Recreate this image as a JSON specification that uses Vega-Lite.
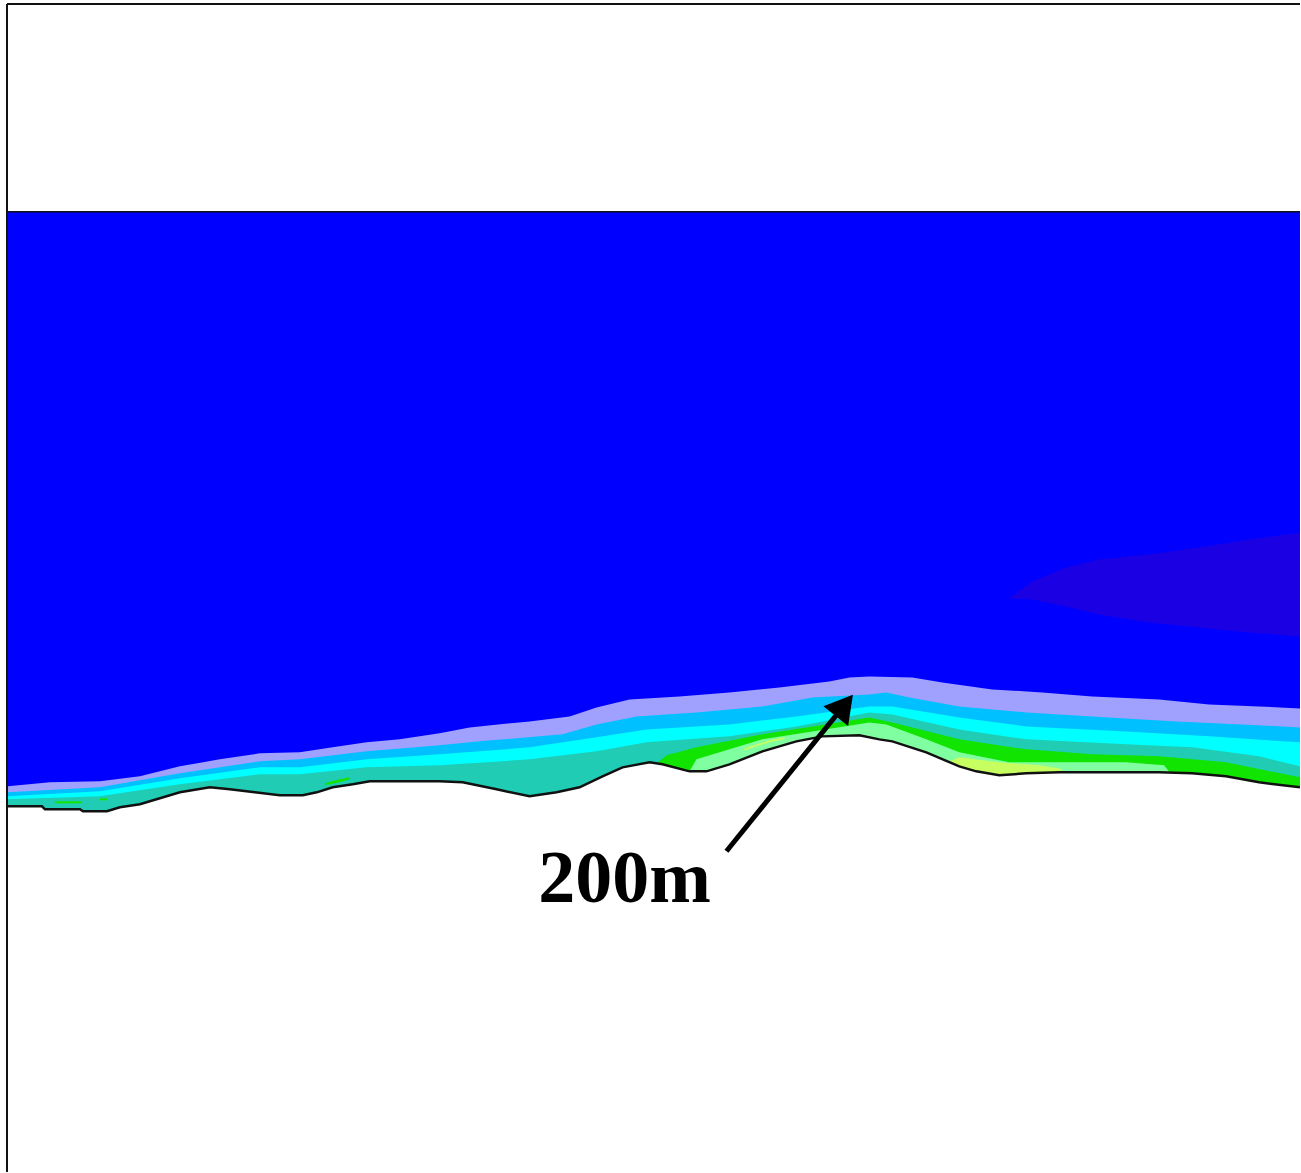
{
  "$schema": "https://vega.github.io/schema/vega-lite/v6.json",
  "autosize": {"type": "fit", "contains": "padding"},
  "width": 1301,
  "height": 1173,
  "padding": 0,
  "background": "white",
  "config": {"view": {"stroke": null}},
  "datasets": {
    "bands": [
      {"band": "blue", "x": 8, "top": 212}, {"band": "blue", "x": 1301, "top": 212},

      {"band": "lavender", "x": 8, "top": 787}, {"band": "lavender", "x": 50, "top": 783}, {"band": "lavender", "x": 100, "top": 782},
      {"band": "lavender", "x": 140, "top": 777}, {"band": "lavender", "x": 180, "top": 767}, {"band": "lavender", "x": 220, "top": 760},
      {"band": "lavender", "x": 260, "top": 754}, {"band": "lavender", "x": 300, "top": 753}, {"band": "lavender", "x": 333, "top": 748},
      {"band": "lavender", "x": 367, "top": 743}, {"band": "lavender", "x": 400, "top": 740}, {"band": "lavender", "x": 440, "top": 734},
      {"band": "lavender", "x": 470, "top": 728}, {"band": "lavender", "x": 530, "top": 722}, {"band": "lavender", "x": 570, "top": 717},
      {"band": "lavender", "x": 597, "top": 708}, {"band": "lavender", "x": 630, "top": 700}, {"band": "lavender", "x": 680, "top": 697},
      {"band": "lavender", "x": 730, "top": 693}, {"band": "lavender", "x": 780, "top": 688}, {"band": "lavender", "x": 830, "top": 682},
      {"band": "lavender", "x": 850, "top": 678}, {"band": "lavender", "x": 870, "top": 677}, {"band": "lavender", "x": 913, "top": 678},
      {"band": "lavender", "x": 943, "top": 683}, {"band": "lavender", "x": 993, "top": 690}, {"band": "lavender", "x": 1043, "top": 693},
      {"band": "lavender", "x": 1093, "top": 697}, {"band": "lavender", "x": 1160, "top": 700}, {"band": "lavender", "x": 1210, "top": 705},
      {"band": "lavender", "x": 1260, "top": 707}, {"band": "lavender", "x": 1301, "top": 709},

      {"band": "sky", "x": 8, "top": 793}, {"band": "sky", "x": 100, "top": 788}, {"band": "sky", "x": 180, "top": 774},
      {"band": "sky", "x": 260, "top": 762}, {"band": "sky", "x": 300, "top": 760}, {"band": "sky", "x": 367, "top": 752},
      {"band": "sky", "x": 440, "top": 746}, {"band": "sky", "x": 480, "top": 742}, {"band": "sky", "x": 563, "top": 735},
      {"band": "sky", "x": 597, "top": 725}, {"band": "sky", "x": 637, "top": 717}, {"band": "sky", "x": 697, "top": 713},
      {"band": "sky", "x": 763, "top": 707}, {"band": "sky", "x": 813, "top": 698}, {"band": "sky", "x": 870, "top": 695},
      {"band": "sky", "x": 887, "top": 693}, {"band": "sky", "x": 910, "top": 698}, {"band": "sky", "x": 960, "top": 707},
      {"band": "sky", "x": 1027, "top": 713}, {"band": "sky", "x": 1093, "top": 717}, {"band": "sky", "x": 1177, "top": 722},
      {"band": "sky", "x": 1243, "top": 725}, {"band": "sky", "x": 1301, "top": 728},

      {"band": "cyan", "x": 8, "top": 797}, {"band": "cyan", "x": 100, "top": 792}, {"band": "cyan", "x": 180, "top": 779},
      {"band": "cyan", "x": 260, "top": 768}, {"band": "cyan", "x": 300, "top": 768}, {"band": "cyan", "x": 367, "top": 760},
      {"band": "cyan", "x": 440, "top": 755}, {"band": "cyan", "x": 530, "top": 748}, {"band": "cyan", "x": 597, "top": 738},
      {"band": "cyan", "x": 647, "top": 730}, {"band": "cyan", "x": 730, "top": 725}, {"band": "cyan", "x": 797, "top": 717},
      {"band": "cyan", "x": 870, "top": 707}, {"band": "cyan", "x": 893, "top": 707}, {"band": "cyan", "x": 960, "top": 718},
      {"band": "cyan", "x": 1027, "top": 727}, {"band": "cyan", "x": 1127, "top": 732}, {"band": "cyan", "x": 1210, "top": 737},
      {"band": "cyan", "x": 1301, "top": 743},

      {"band": "teal", "x": 8, "top": 800}, {"band": "teal", "x": 100, "top": 797}, {"band": "teal", "x": 180, "top": 785},
      {"band": "teal", "x": 260, "top": 775}, {"band": "teal", "x": 300, "top": 775}, {"band": "teal", "x": 367, "top": 768},
      {"band": "teal", "x": 440, "top": 766}, {"band": "teal", "x": 530, "top": 760}, {"band": "teal", "x": 597, "top": 752},
      {"band": "teal", "x": 647, "top": 743}, {"band": "teal", "x": 730, "top": 737}, {"band": "teal", "x": 797, "top": 727},
      {"band": "teal", "x": 870, "top": 713}, {"band": "teal", "x": 893, "top": 715}, {"band": "teal", "x": 960, "top": 730},
      {"band": "teal", "x": 1027, "top": 740}, {"band": "teal", "x": 1127, "top": 745}, {"band": "teal", "x": 1193, "top": 748},
      {"band": "teal", "x": 1260, "top": 757}, {"band": "teal", "x": 1301, "top": 767},

      {"band": "green", "x": 655, "top": 766}, {"band": "green", "x": 667, "top": 756}, {"band": "green", "x": 697, "top": 748},
      {"band": "green", "x": 763, "top": 735}, {"band": "green", "x": 813, "top": 727}, {"band": "green", "x": 870, "top": 718},
      {"band": "green", "x": 893, "top": 723}, {"band": "green", "x": 960, "top": 740}, {"band": "green", "x": 1027, "top": 750},
      {"band": "green", "x": 1093, "top": 755}, {"band": "green", "x": 1160, "top": 757}, {"band": "green", "x": 1227, "top": 763},
      {"band": "green", "x": 1301, "top": 778},

      {"band": "lightgreen", "x": 690, "top": 772}, {"band": "lightgreen", "x": 697, "top": 760}, {"band": "lightgreen", "x": 730, "top": 750},
      {"band": "lightgreen", "x": 763, "top": 740}, {"band": "lightgreen", "x": 813, "top": 732}, {"band": "lightgreen", "x": 870, "top": 723},
      {"band": "lightgreen", "x": 887, "top": 725}, {"band": "lightgreen", "x": 927, "top": 740}, {"band": "lightgreen", "x": 960, "top": 753},
      {"band": "lightgreen", "x": 1010, "top": 763}, {"band": "lightgreen", "x": 1060, "top": 763}, {"band": "lightgreen", "x": 1127, "top": 763},
      {"band": "lightgreen", "x": 1165, "top": 766}, {"band": "lightgreen", "x": 1172, "top": 775},

      {"band": "yellow", "x": 946, "top": 764}, {"band": "yellow", "x": 960, "top": 758}, {"band": "yellow", "x": 1000, "top": 763},
      {"band": "yellow", "x": 1040, "top": 766}, {"band": "yellow", "x": 1060, "top": 769}, {"band": "yellow", "x": 1066, "top": 774}
    ],
    "streaks": [
      {"s": "a", "x": 55, "top": 802, "bottom": 804}, {"s": "a", "x": 82, "top": 802, "bottom": 804},
      {"s": "b", "x": 100, "top": 799, "bottom": 801}, {"s": "b", "x": 107, "top": 799, "bottom": 801},
      {"s": "c", "x": 325, "top": 784, "bottom": 786}, {"s": "c", "x": 340, "top": 780, "bottom": 783}, {"s": "c", "x": 350, "top": 778, "bottom": 780},
      {"s": "d", "x": 745, "top": 749, "bottom": 751}, {"s": "d", "x": 770, "top": 741, "bottom": 743}, {"s": "d", "x": 785, "top": 738, "bottom": 740}
    ],
    "wedge": [
      {"x": 1010, "top": 599, "bottom": 599}, {"x": 1033, "top": 582, "bottom": 600}, {"x": 1067, "top": 568, "bottom": 607},
      {"x": 1100, "top": 560, "bottom": 615}, {"x": 1150, "top": 555, "bottom": 623}, {"x": 1200, "top": 548, "bottom": 628},
      {"x": 1250, "top": 540, "bottom": 633}, {"x": 1301, "top": 533, "bottom": 637}
    ],
    "ground": [
      {"x": 8, "y": 807}, {"x": 42, "y": 807}, {"x": 45, "y": 810}, {"x": 80, "y": 810}, {"x": 83, "y": 812},
      {"x": 107, "y": 812}, {"x": 120, "y": 808}, {"x": 140, "y": 805}, {"x": 160, "y": 799}, {"x": 180, "y": 793},
      {"x": 210, "y": 788}, {"x": 230, "y": 790}, {"x": 255, "y": 793}, {"x": 280, "y": 796}, {"x": 303, "y": 796},
      {"x": 317, "y": 793}, {"x": 333, "y": 788}, {"x": 353, "y": 785}, {"x": 370, "y": 782}, {"x": 440, "y": 782},
      {"x": 463, "y": 783}, {"x": 497, "y": 790}, {"x": 530, "y": 797}, {"x": 557, "y": 793}, {"x": 580, "y": 788},
      {"x": 603, "y": 777}, {"x": 623, "y": 768}, {"x": 650, "y": 763}, {"x": 663, "y": 765}, {"x": 690, "y": 772},
      {"x": 707, "y": 772}, {"x": 730, "y": 765}, {"x": 763, "y": 752}, {"x": 797, "y": 742}, {"x": 823, "y": 737},
      {"x": 860, "y": 736}, {"x": 880, "y": 740}, {"x": 893, "y": 742}, {"x": 927, "y": 753}, {"x": 960, "y": 767},
      {"x": 977, "y": 772}, {"x": 1000, "y": 776}, {"x": 1027, "y": 774}, {"x": 1060, "y": 773}, {"x": 1160, "y": 773},
      {"x": 1193, "y": 774}, {"x": 1227, "y": 777}, {"x": 1260, "y": 783}, {"x": 1301, "y": 788}
    ],
    "arrow": [{"x": 727, "y": 852, "x2": 844, "y2": 707}],
    "head": [{"x": 845, "y": 706, "angle": 38.7}],
    "label": [{"x": 625, "y": 903, "text": "200m"}]
  },
  "layer": [
    {
      "data": {"name": "bands"},
      "transform": [{"filter": "datum.band === 'blue'"}],
      "mark": {"type": "area", "color": "#0000FF", "clip": true},
      "encoding": {
        "x": {"field": "x", "type": "quantitative", "scale": {"domain": [0, 1301], "nice": false, "zero": false}, "axis": null},
        "y": {"field": "top", "type": "quantitative", "scale": {"domain": [0, 1173], "nice": false, "zero": false, "reverse": true}, "axis": null},
        "y2": {"datum": 1173}
      }
    },
    {
      "data": {"name": "wedge"},
      "mark": {"type": "area", "color": "#1A00E2", "clip": true},
      "encoding": {
        "x": {"field": "x", "type": "quantitative"},
        "y": {"field": "top", "type": "quantitative"},
        "y2": {"field": "bottom"}
      }
    },
    {
      "data": {"name": "bands"},
      "transform": [{"filter": "datum.band === 'lavender'"}],
      "mark": {"type": "area", "color": "#A0A0FF", "clip": true},
      "encoding": {"x": {"field": "x", "type": "quantitative"}, "y": {"field": "top", "type": "quantitative"}, "y2": {"datum": 1173}}
    },
    {
      "data": {"name": "bands"},
      "transform": [{"filter": "datum.band === 'sky'"}],
      "mark": {"type": "area", "color": "#00C0FF", "clip": true},
      "encoding": {"x": {"field": "x", "type": "quantitative"}, "y": {"field": "top", "type": "quantitative"}, "y2": {"datum": 1173}}
    },
    {
      "data": {"name": "bands"},
      "transform": [{"filter": "datum.band === 'cyan'"}],
      "mark": {"type": "area", "color": "#00FFFF", "clip": true},
      "encoding": {"x": {"field": "x", "type": "quantitative"}, "y": {"field": "top", "type": "quantitative"}, "y2": {"datum": 1173}}
    },
    {
      "data": {"name": "bands"},
      "transform": [{"filter": "datum.band === 'teal'"}],
      "mark": {"type": "area", "color": "#20CCB4", "clip": true},
      "encoding": {"x": {"field": "x", "type": "quantitative"}, "y": {"field": "top", "type": "quantitative"}, "y2": {"datum": 1173}}
    },
    {
      "data": {"name": "bands"},
      "transform": [{"filter": "datum.band === 'green'"}],
      "mark": {"type": "area", "color": "#10E400", "clip": true},
      "encoding": {"x": {"field": "x", "type": "quantitative"}, "y": {"field": "top", "type": "quantitative"}, "y2": {"datum": 1173}}
    },
    {
      "data": {"name": "bands"},
      "transform": [{"filter": "datum.band === 'lightgreen'"}],
      "mark": {"type": "area", "color": "#80FFA0", "clip": true},
      "encoding": {"x": {"field": "x", "type": "quantitative"}, "y": {"field": "top", "type": "quantitative"}, "y2": {"datum": 1173}}
    },
    {
      "data": {"name": "bands"},
      "transform": [{"filter": "datum.band === 'yellow'"}],
      "mark": {"type": "area", "color": "#C8FF60", "clip": true},
      "encoding": {"x": {"field": "x", "type": "quantitative"}, "y": {"field": "top", "type": "quantitative"}, "y2": {"datum": 1173}}
    },
    {
      "data": {"name": "streaks"},
      "transform": [{"filter": "datum.s !== 'd'"}],
      "mark": {"type": "area", "color": "#10E400", "clip": true},
      "encoding": {"detail": {"field": "s"}, "x": {"field": "x", "type": "quantitative"}, "y": {"field": "top", "type": "quantitative"}, "y2": {"field": "bottom"}}
    },
    {
      "data": {"name": "streaks"},
      "transform": [{"filter": "datum.s === 'd'"}],
      "mark": {"type": "area", "color": "#C8FF60", "clip": true},
      "encoding": {"x": {"field": "x", "type": "quantitative"}, "y": {"field": "top", "type": "quantitative"}, "y2": {"field": "bottom"}}
    },
    {
      "data": {"name": "ground"},
      "mark": {"type": "area", "color": "white", "clip": true},
      "encoding": {"x": {"field": "x", "type": "quantitative"}, "y": {"field": "y", "type": "quantitative"}, "y2": {"datum": 1173}}
    },
    {
      "data": {"name": "ground"},
      "mark": {"type": "line", "color": "#111111", "strokeWidth": 2.5, "clip": true},
      "encoding": {"x": {"field": "x", "type": "quantitative"}, "y": {"field": "y", "type": "quantitative"}}
    },
    {
      "data": {"values": [{}]},
      "mark": {"type": "rule", "color": "#111111", "strokeWidth": 1.5},
      "encoding": {"x": {"datum": 7}, "x2": {"datum": 1301}, "y": {"datum": 212}}
    },
    {
      "data": {"values": [{}]},
      "mark": {"type": "rule", "color": "#111111", "strokeWidth": 2},
      "encoding": {"x": {"datum": 7}, "y": {"datum": 4}, "y2": {"datum": 1173}}
    },
    {
      "data": {"values": [{}]},
      "mark": {"type": "rule", "color": "#111111", "strokeWidth": 2},
      "encoding": {"x": {"datum": 7}, "x2": {"datum": 1301}, "y": {"datum": 4}}
    },
    {
      "data": {"name": "arrow"},
      "mark": {"type": "rule", "color": "black", "strokeWidth": 5},
      "encoding": {
        "x": {"field": "x", "type": "quantitative"}, "y": {"field": "y", "type": "quantitative"},
        "x2": {"field": "x2"}, "y2": {"field": "y2"}
      }
    },
    {
      "data": {"name": "head"},
      "mark": {"type": "point", "shape": "triangle-up", "filled": true, "color": "black", "opacity": 1, "size": 1000, "strokeWidth": 0},
      "encoding": {
        "x": {"field": "x", "type": "quantitative"}, "y": {"field": "y", "type": "quantitative"},
        "angle": {"field": "angle", "type": "quantitative", "scale": null}
      }
    },
    {
      "data": {"name": "label"},
      "mark": {"type": "text", "font": "Liberation Serif", "fontWeight": "bold", "fontSize": 74, "align": "center", "baseline": "alphabetic", "color": "black"},
      "encoding": {
        "x": {"field": "x", "type": "quantitative"}, "y": {"field": "y", "type": "quantitative"},
        "text": {"field": "text"}
      }
    }
  ]
}
